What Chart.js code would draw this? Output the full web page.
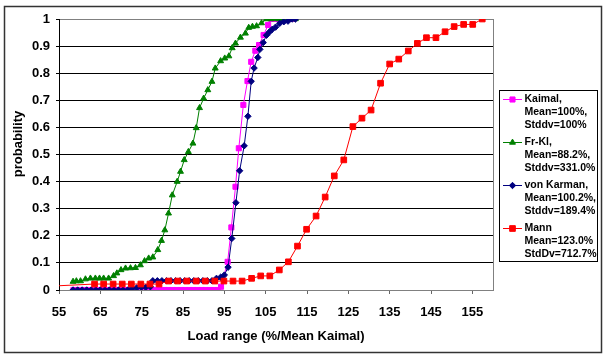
<!DOCTYPE html>
<html>
<head>
<meta charset="utf-8">
<script src="https://cdn.jsdelivr.net/npm/chart.js@4"></script>
<style>
  body { margin: 0; background: #fff; }
  canvas { display: block; }
</style>
</head>
<body>
<canvas id="myChart" width="603" height="354"></canvas>
<script>
// load range (% of mean Kaimal) vs cumulative probability
const kaimalX = [58.5, 59.5, 60.5, 61.5, 62.5, 63.5, 64.5, 65.5, 66.5, 67.5, 68.5, 69.5, 70.5, 71.5, 72.5, 73.5, 74.5, 75.5,
    76.5, 77.5, 78.5, 79.5, 80.5, 81.5, 82.5, 83.5, 84.5, 85.5, 86.5, 87.5, 88.5, 89.5, 90.5, 91.5, 92.5, 93.5,
    94.2, 95.8, 96.7, 97.7, 98.5, 99.6, 100.6, 101.5, 102.5, 103.4, 104.5, 105.6,
    106.4, 107.4, 108.4, 109.4, 110.4, 111.3];
const kaimalY = [0, 0, 0, 0, 0, 0, 0, 0, 0, 0, 0, 0, 0, 0, 0, 0, 0, 0,
    0, 0, 0, 0, 0, 0, 0, 0, 0, 0, 0, 0, 0, 0, 0, 0, 0, 0,
    0.012, 0.104, 0.231, 0.381, 0.523, 0.683, 0.771, 0.842, 0.883, 0.904, 0.941, 0.978,
    1, 1, 1, 1, 1, 1];

const frklX = [58.4, 59.2, 60.2, 61.4, 62.6, 63.8, 64.8, 65.8, 67.0, 68.2, 69.0, 70.0, 71.1, 72.3, 73.5, 74.7, 75.7, 76.7,
    77.7, 78.9, 79.8, 80.6, 81.5, 82.4, 83.6, 84.4, 85.3, 86.3, 87.4, 88.2, 89.0, 90.0, 91.0, 92.0, 92.8, 94.1,
    95.1, 96.1, 96.9, 97.7, 98.9, 100.1, 100.9, 101.8, 102.8, 104.0, 105.2, 106.2, 107.2, 108.2, 109.2, 110.2, 111.2, 112.2];
const frklY = [0.031, 0.033, 0.033, 0.04, 0.043, 0.043, 0.043, 0.043, 0.043, 0.052, 0.062, 0.074, 0.08, 0.081, 0.082, 0.092, 0.107, 0.117,
    0.121, 0.148, 0.182, 0.221, 0.283, 0.35, 0.40, 0.437, 0.48, 0.51, 0.541, 0.598, 0.672, 0.707, 0.738, 0.769, 0.818, 0.845,
    0.855, 0.863, 0.893, 0.91, 0.932, 0.947, 0.968, 0.972, 0.974, 0.985, 1, 1, 1, 1, 1, 1, 1, 1];

const karmanX = [58.4, 59.5, 60.6, 61.7, 62.8, 63.9, 65.0, 66.1, 67.2, 68.3, 69.4, 70.5, 71.6, 72.7, 73.8, 74.9, 76.0, 77.1,
    77.7, 78.8, 79.9, 81.0, 82.1, 83.2, 84.3, 85.4, 86.5, 87.6, 88.7, 89.8, 90.9, 92.0, 93.1, 94.1, 95.0, 95.9,
    96.8, 97.8, 98.7, 99.8, 100.7, 101.5, 102.2, 103.1, 103.6, 104.4, 105.2, 105.9, 106.6, 107.4, 108.4, 109.4, 110.4, 111.4, 112.2];
const karmanY = [0, 0, 0, 0, 0, 0, 0, 0, 0, 0, 0, 0, 0, 0.006, 0.008, 0.01, 0.01, 0.012,
    0.034, 0.034, 0.034, 0.034, 0.034, 0.034, 0.034, 0.034, 0.034, 0.034, 0.034, 0.034, 0.034, 0.034, 0.043, 0.047, 0.055, 0.084,
    0.19, 0.322, 0.44, 0.532, 0.641, 0.77, 0.819, 0.858, 0.888, 0.913, 0.94, 0.952, 0.962, 0.97, 0.984, 0.99, 0.992, 1, 1];

const mannX = [54.0, 63.6, 65.8, 68.1, 70.3, 72.5, 74.8, 77.0, 79.2, 81.5, 83.7, 85.9, 88.2, 90.4, 92.7, 94.9, 97.1, 99.3,
    101.6, 103.8, 106.0, 108.3, 110.5, 112.7, 114.9, 117.2, 119.4, 121.6, 123.9, 126.1, 128.3, 130.5,
    132.8, 135.0, 137.2, 139.5, 141.7, 143.9, 146.2, 148.4, 150.6, 152.9, 155.1, 157.4];
const mannY = [0.015, 0.022, 0.022, 0.022, 0.022, 0.022, 0.022, 0.022, 0.022, 0.033, 0.033, 0.033, 0.033, 0.033, 0.033, 0.033, 0.033, 0.033,
    0.043, 0.052, 0.052, 0.074, 0.104, 0.162, 0.224, 0.273, 0.343, 0.421, 0.48, 0.603, 0.634, 0.664,
    0.763, 0.834, 0.852, 0.882, 0.91, 0.931, 0.931, 0.953, 0.972, 0.98, 0.98, 1];

const kaimalLabel = ['Kaimal,', 'Mean=100%,', 'Stddv=100%'];
const frklLabel = ['Fr-Kl,', 'Mean=88.2%,', 'Stddv=331.0%'];
const karmanLabel = ['von Karman,', 'Mean=100.2%,', 'Stddv=189.4%'];
const mannLabel = ['Mann', 'Mean=123.0%', 'StdDv=712.7%'];

const xTicks = [55, 65, 75, 85, 95, 105, 115, 125, 135, 145, 155];
const yTicks = [0, 0.1, 0.2, 0.3, 0.4, 0.5, 0.6, 0.7, 0.8, 0.9, 1];
const yTickLabels = ['0', '0.1', '0.2', '0.3', '0.4', '0.5', '0.6', '0.7', '0.8', '0.9', '1'];

Chart.defaults.font.family = '"Liberation Sans", Arial, sans-serif';
Chart.defaults.color = '#000';

const toPoints = (xs, ys) => xs.map((x, i) => ({x: x, y: ys[i]}));

const series = (lines, xs, ys, color, style, radius, order) => ({
    label: lines[0],
    legendLines: lines,
    data: toPoints(xs, ys),
    showLine: true,
    borderColor: color,
    backgroundColor: color,
    borderWidth: 1,
    pointStyle: style,
    pointRadius: radius,
    pointBorderWidth: 1,
    pointHoverRadius: radius,
    tension: 0,
    order: order
});

const datasets = [
    series(kaimalLabel, kaimalX, kaimalY, '#ff00ff', 'rect', 3.6, 3),
    series(frklLabel, frklX, frklY, '#008000', 'triangle', 3.4, 2),
    series(karmanLabel, karmanX, karmanY, '#000080', 'rectRot', 3.2, 1),
    series(mannLabel, mannX, mannY, '#ff0000', 'rect', 4, 0)
];

// frame, right plot border, y title and the boxed legend
const chartDecor = {
    id: 'chartDecor',
    beforeDraw: (chart) => {
        const ctx = chart.ctx;
        ctx.save();
        ctx.fillStyle = '#fff';
        ctx.fillRect(0, 0, chart.width, chart.height);
        ctx.restore();
    },
    afterDraw: (chart) => {
        const ctx = chart.ctx;
        const area = chart.chartArea;
        ctx.save();

        ctx.strokeStyle = '#808080';
        ctx.lineWidth = 1;
        ctx.beginPath();
        ctx.moveTo(area.right + 0.5, area.top);
        ctx.lineTo(area.right + 0.5, area.bottom);
        ctx.stroke();

        ctx.strokeStyle = '#333';
        ctx.lineWidth = 1.5;
        ctx.strokeRect(4.5, 6.5, 597, 346);

        ctx.fillStyle = '#000';
        ctx.font = 'bold 13px "Liberation Sans", Arial, sans-serif';
        ctx.textAlign = 'center';
        ctx.textBaseline = 'middle';
        ctx.translate(18.5, 144);
        ctx.rotate(-Math.PI / 2);
        ctx.fillText('probability', 0, 0);
        ctx.setTransform(1, 0, 0, 1, 0, 0);

        ctx.strokeStyle = '#000';
        ctx.lineWidth = 1;
        ctx.strokeRect(499.5, 90.5, 98, 171);

        ctx.font = 'bold 10.5px "Liberation Sans", Arial, sans-serif';
        ctx.textAlign = 'left';
        let y = 99.5;
        chart.data.datasets.forEach((ds) => {
            ctx.strokeStyle = ds.borderColor;
            ctx.lineWidth = 1;
            ctx.beginPath();
            ctx.moveTo(503, y);
            ctx.lineTo(522, y);
            ctx.stroke();
            ctx.fillStyle = ds.backgroundColor;
            Chart.helpers.drawPoint(ctx, {
                pointStyle: ds.pointStyle, radius: ds.pointRadius, rotation: 0, borderWidth: 1
            }, 512.5, y);
            ctx.fillStyle = '#000';
            ds.legendLines.forEach((t, i) => ctx.fillText(t, 524.5, y + i * 12.8));
            y += 43;
        });
        ctx.restore();
    }
};

new Chart(document.getElementById('myChart'), {
    type: 'scatter',
    data: {datasets: datasets},
    options: {
        responsive: false,
        animation: false,
        devicePixelRatio: 1,
        layout: {padding: {left: 0, right: 110, top: 19, bottom: 10}},
        plugins: {
            legend: {display: false},
            tooltip: {enabled: false}
        },
        scales: {
            x: {
                type: 'linear',
                position: 'bottom',
                min: 55,
                max: 160,
                afterBuildTicks: (s) => { s.ticks = xTicks.map(v => ({value: v})); },
                afterFit: (s) => { s.height = 54; },
                ticks: {
                    font: {size: 13, weight: 'bold'},
                    color: '#000',
                    padding: 11,
                    maxRotation: 0,
                    autoSkip: false
                },
                grid: {drawOnChartArea: false, drawTicks: true, tickLength: 4, color: '#666'},
                border: {color: '#808080'},
                title: {
                    display: true,
                    text: 'Load range (%/Mean Kaimal)',
                    font: {size: 13, weight: 'bold'},
                    color: '#000',
                    padding: 0
                }
            },
            y: {
                type: 'linear',
                min: 0,
                max: 1,
                afterBuildTicks: (s) => { s.ticks = yTicks.map(v => ({value: v})); },
                afterFit: (s) => { s.width = 59; },
                ticks: {
                    font: {size: 13, weight: 'bold'},
                    color: '#000',
                    padding: 6,
                    callback: (v, i) => yTickLabels[i]
                },
                grid: {
                    color: (c) => (c.tick && c.tick.value === 1 ? '#808080' : '#000'),
                    tickColor: '#000',
                    tickLength: 3
                },
                border: {color: '#000'}
            }
        }
    },
    plugins: [chartDecor]
});
</script>
</body>
</html>
